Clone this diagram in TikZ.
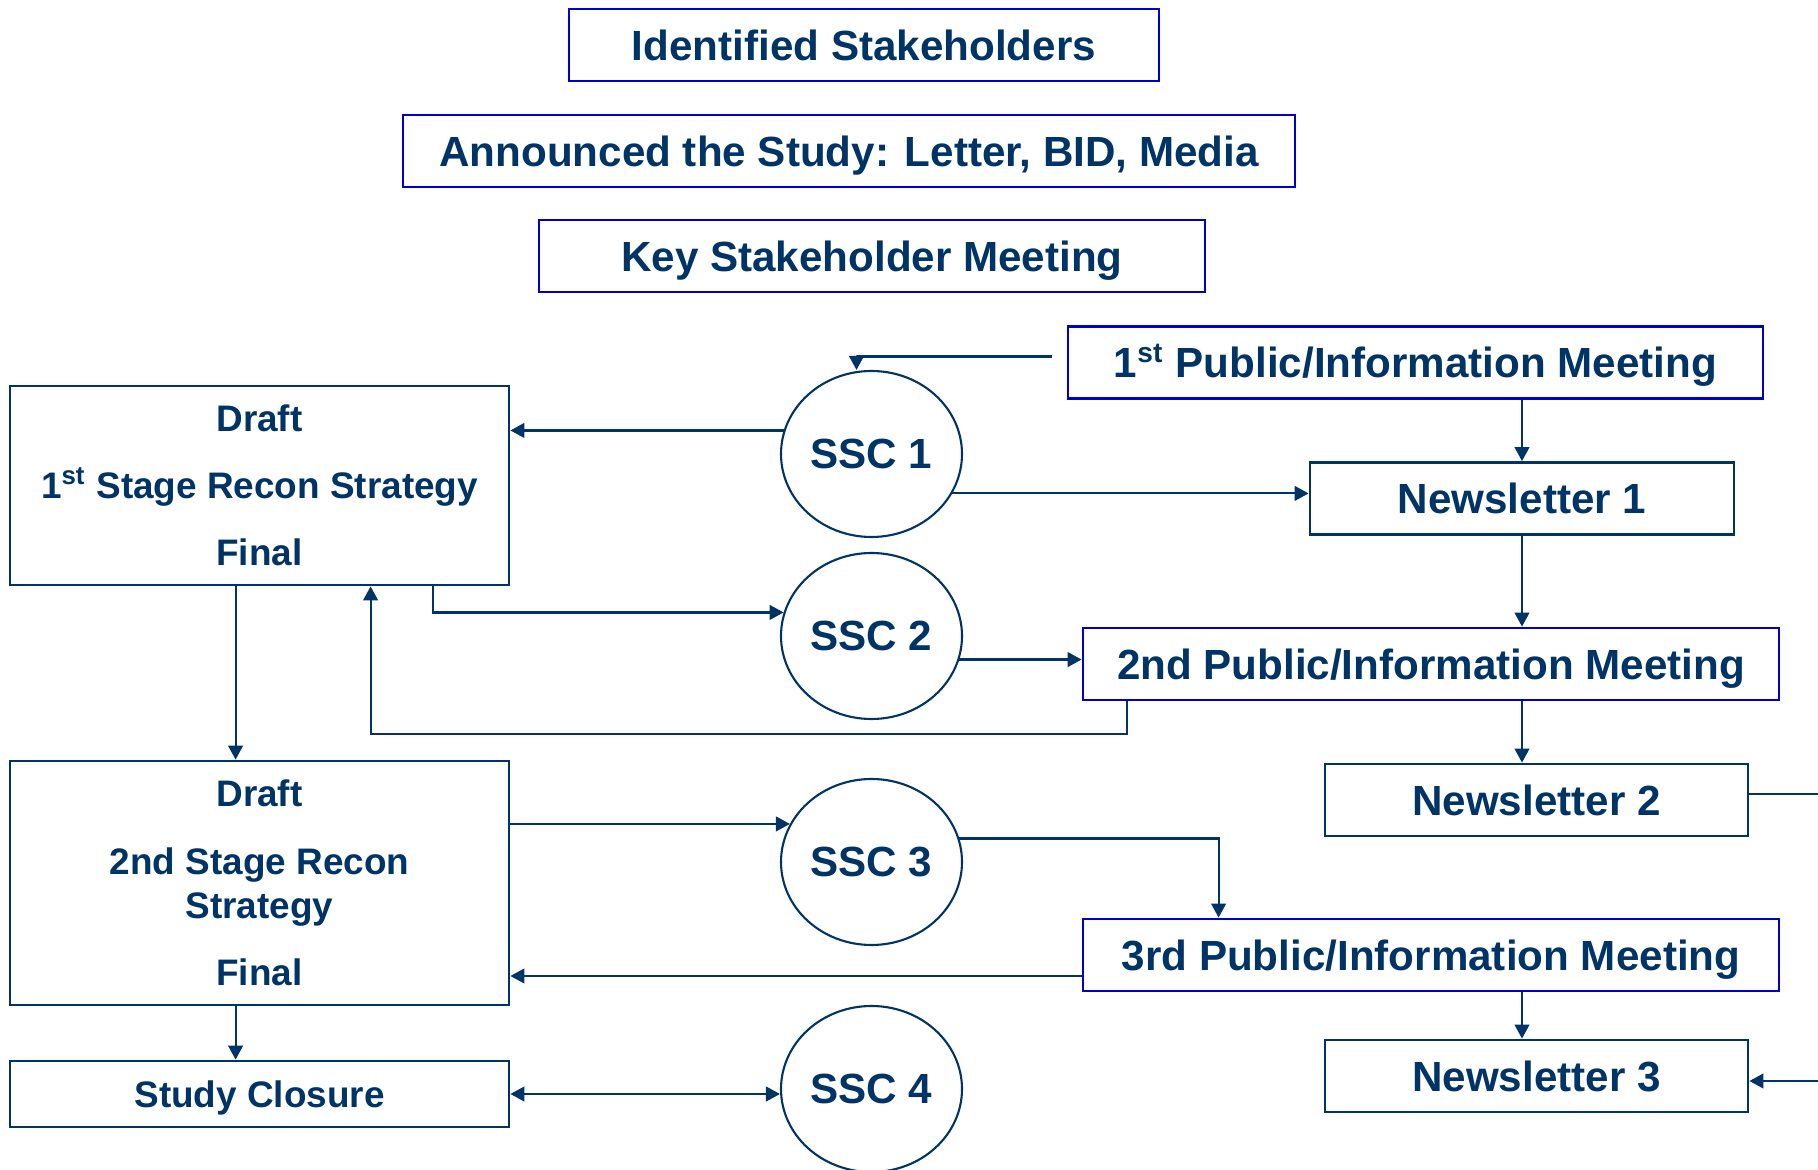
\documentclass[tikz,border=0pt]{standalone}
\usepackage{fontspec}
\setmainfont{Liberation Sans}
\usetikzlibrary{arrows.meta,shapes.geometric}
\definecolor{navy}{RGB}{0,51,102}
\definecolor{boxblue}{RGB}{0,0,204}

\begin{document}
\begin{tikzpicture}[x=1cm,y=-1cm]
    \useasboundingbox (0,0) rectangle (18.18,11.70);

    % blue framed boxes
    \begin{scope}[every node/.style={rectangle,draw=boxblue,line width=0.8pt,text=navy,
          inner sep=0pt,minimum height=0.72cm,text height=8.6pt,text depth=0pt,
          font=\fontsize{12}{14.4}\selectfont\bfseries}]
      \node[minimum width=5.90cm] (ident) at (8.64,0.45) {Identified Stakeholders};
      \node[minimum width=8.92cm] (announce) at (8.49,1.51) {Announced the Study: Letter, BID, Media};
      \node[minimum width=6.66cm] (keymeet) at (8.72,2.56) {Key Stakeholder Meeting};
      \node[minimum width=6.95cm] (pub1) at (14.155,3.625) {1\textsuperscript{st} Public/Information Meeting};
      \node[minimum width=6.96cm] (pub2) at (14.31,6.64) {2nd Public/Information Meeting};
      \node[minimum width=6.96cm] (pub3) at (14.31,9.55) {3rd Public/Information Meeting};
    \end{scope}

    % navy framed boxes
    \begin{scope}[every node/.style={rectangle,draw=navy,line width=0.8pt,text=navy,
          inner sep=0pt,minimum height=0.72cm,text height=8.6pt,text depth=0pt,
          font=\fontsize{12}{14.4}\selectfont\bfseries}]
      \node[minimum width=4.24cm] (nl1) at (15.22,4.985) {Newsletter 1};
      \node[minimum width=4.23cm] (nl2) at (15.365,8.00) {Newsletter 2};
      \node[minimum width=4.23cm] (nl3) at (15.365,10.76) {Newsletter 3};
    \end{scope}

    \begin{scope}[every node/.style={rectangle,draw=navy,line width=0.8pt,text=navy,align=center,
          inner sep=0pt,minimum width=4.99cm,font=\fontsize{10.5}{12.6}\selectfont\bfseries}]
      \node[minimum height=1.99cm] (draft1) at (2.595,4.855)
        {Draft\\[6.5pt]1\textsuperscript{st} Stage Recon Strategy\\[6.5pt]Final};
      \node[minimum height=2.44cm] (draft2) at (2.595,8.83)
        {Draft\\[6.8pt]2nd Stage Recon\\Strategy\\[6.5pt]Final};
      \node[minimum height=0.66cm,text height=7.5pt,text depth=0pt] (closure) at (2.595,10.94) {Study Closure};
    \end{scope}

    \begin{scope}[every node/.style={ellipse,draw=navy,line width=0.6pt,text=navy,inner sep=0pt,
          minimum width=1.81cm,minimum height=1.66cm,font=\fontsize{12}{14.4}\selectfont\bfseries}]
      \node (ssc1) at (8.715,4.54) {SSC 1};
      \node (ssc2) at (8.715,6.36) {SSC 2};
      \node (ssc3) at (8.715,8.62) {SSC 3};
      \node (ssc4) at (8.715,10.89) {SSC 4};
    \end{scope}

    \coordinate (edge2) at (18.18,7.94);
    \coordinate (edge3) at (18.18,10.81);

    \begin{scope}[>={Triangle[length=4pt,width=4.2pt]},navy,line width=0.6pt]
      \draw[->] ([xshift=-0.15cm,yshift=0.06cm]pub1.west) -| ([xshift=-0.15cm]ssc1.north);
      \draw[->] (ssc1.165) -- (ssc1.165 -| draft1.east);
      \draw[->] (ssc1.-26) -- (ssc1.-26 -| nl1.west);
      \draw[->] (pub1.south -| nl1.north) -- (nl1.north);
      \draw[->] (nl1.south) -- (nl1.south |- pub2.north);
      \draw[->] ([xshift=-0.77cm]draft1.south east) |- (ssc2.165);
      \draw[->] (ssc2.-15) -- (ssc2.-15 -| pub2.west);
      \draw[->] ([xshift=0.45cm]pub2.south west) -- ++(0,0.33) -| ([xshift=3.62cm]draft1.south west);
      \draw[->] ([xshift=2.27cm]draft1.south west) -- ([xshift=2.27cm]draft2.north west);
      \draw[->] (pub2.south -| nl1.south) -- (nl2.north -| nl1.south);
      \draw (nl2.east |- edge2) -- (edge2);
      \draw[->] (edge3) -- (edge3 -| nl3.east);
      \draw[->] (ssc3.155 -| draft2.east) -- (ssc3.155);
      \draw[->] (ssc3.15) -| ([xshift=1.37cm]pub3.north west);
      \draw[->] ([yshift=-0.21cm]pub3.west) -- ([yshift=-0.21cm]pub3.west -| draft2.east);
      \draw[->] (pub3.south -| nl1.south) -- (nl3.north -| nl1.south);
      \draw[->] ([xshift=2.27cm]draft2.south west) -- ([xshift=2.27cm]closure.north west);
      \draw[<->] (closure.east) -- (closure.east -| ssc4.west);
    \end{scope}
\end{tikzpicture}
\end{document}
